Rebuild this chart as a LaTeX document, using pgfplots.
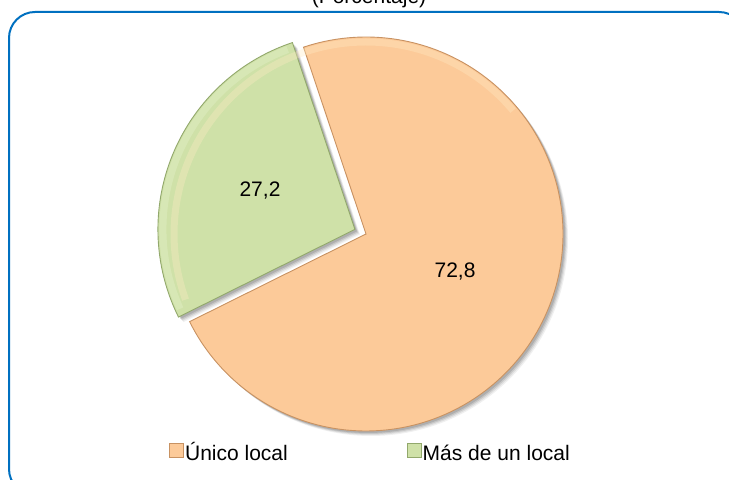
\documentclass[border=0pt]{standalone}
\usepackage{pgfplots}
\pgfplotsset{compat=1.18}
\usepackage{fontspec}
\setmainfont{Liberation Sans}

\definecolor{orangeF}{RGB}{252,202,153}
\definecolor{orangeD}{RGB}{200,146,98}
\definecolor{orangeL}{RGB}{255,236,196}
\definecolor{greenF}{RGB}{207,225,168}
\definecolor{greenD}{RGB}{146,168,108}
\definecolor{greenL}{RGB}{232,243,208}
\definecolor{frameblue}{RGB}{0,112,192}

% data (percent)
\def\vA{72.8}% Unico local
\def\vB{27.2}% Mas de un local
\pgfmathsetmacro\aStart{108.5}
\pgfmathsetmacro\aMid{\aStart+3.6*\vB}
\pgfmathsetmacro\aEnd{\aStart+360}
\pgfmathsetmacro\gMid{(\aStart+\aMid)/2}
\def\cx{366}
\def\cy{-234}
\def\R{197}
\pgfmathsetmacro\gx{\cx+12*cos(\gMid)}
\pgfmathsetmacro\gy{\cy+12*sin(\gMid)}

\newcommand\slice[6]{% style, cx, cy, start, end, radius
  \addplot[#1, domain=#4:#5, samples=160, variable=\t]
    ({#2+#6*cos(t)},{#3+#6*sin(t)}) -- (axis cs:#2,#3) -- cycle;}

\newcommand\shadow[3]{% shift, opacity
  \pgfmathsetmacro\ocx{\cx+#1}\pgfmathsetmacro\ocy{\cy-#1}%
  \pgfmathsetmacro\ogx{\gx+#1}\pgfmathsetmacro\ogy{\gy-#1}%
  \edef\tmp{\noexpand\slice{fill=black, draw=none, opacity=#2, forget plot}{\ocx}{\ocy}{\aMid}{\aEnd}{\R}
  \noexpand\slice{fill=black, draw=none, opacity=#2, forget plot}{\ogx}{\ogy}{\aStart}{\aMid}{\R}}\tmp}

\begin{document}
\begin{tikzpicture}[x=1bp,y=1bp]
\useasboundingbox (0,0) rectangle (729,480);
\clip (0,0) rectangle (729,480);
\begin{axis}[
  at={(0,0)}, anchor=south west,
  scale only axis, width=729bp, height=480bp,
  xmin=0, xmax=729, ymin=-480, ymax=0,
  hide axis, clip=false,
  legend columns=2,
  legend cell align=left,
  legend style={at={(axis cs:370,-454)}, anchor=center, draw=none, fill=none,
    font=\fontsize{21bp}{25bp}\selectfont,
    nodes={inner sep=1bp, text height=15bp, text depth=4bp},
    /tikz/every even column/.append style={column sep=118bp}},
  legend image code/.code={\fill[#1] (0bp,-2bp) rectangle (14bp,12bp);
     \draw[#1, fill=none, line width=0.6bp] (0bp,-2bp) rectangle (14bp,12bp);},
]
% shadows
\shadow{5}{0.06}{}
\shadow{4}{0.08}{}
\shadow{3}{0.10}{}
\shadow{2}{0.12}{}
% slices
\slice{fill=orangeF, draw=orangeD, line width=0.9bp}{\cx}{\cy}{\aMid}{\aEnd}{\R}
\addlegendentry{Único local}
\slice{fill=greenF, draw=greenD, line width=0.9bp}{\gx}{\gy}{\aStart}{\aMid}{\R}
\addlegendentry{Más de un local}
% bevel highlights
\addplot[orangeL, line width=7bp, opacity=0.35, domain=40:200, samples=100, variable=\t, forget plot]
  ({\cx+(\R-5)*cos(t)},{\cy+(\R-5)*sin(t)});
\addplot[greenL, line width=7bp, opacity=0.35, domain=\aStart+2:\aMid-2, samples=80, variable=\t, forget plot]
  ({\gx+(\R-5)*cos(t)},{\gy+(\R-5)*sin(t)});

% labels
\node[anchor=center, font=\fontsize{21bp}{25bp}\selectfont] at (axis cs:260,-191) {27,2};
\node[anchor=center, font=\fontsize{21bp}{25bp}\selectfont] at (axis cs:455,-272) {72,8};
\node[anchor=base, font=\fontsize{21bp}{25bp}\selectfont, inner sep=0pt] at (axis cs:369,-3.6) {(Porcentaje)};
\end{axis}
\draw[frameblue, line width=2bp, rounded corners=26bp] (9,468) rectangle (745,-15);
\end{tikzpicture}
\end{document}
